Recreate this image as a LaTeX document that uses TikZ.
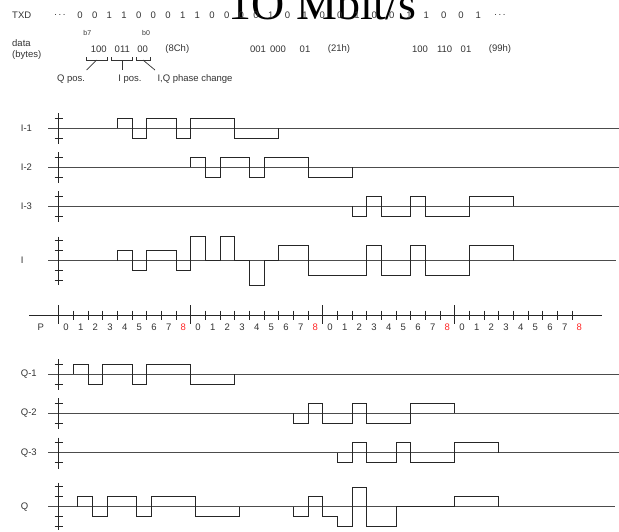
\documentclass[tikz,border=0pt]{standalone}
\usepackage{fontspec}
\setmainfont{Liberation Sans}
\newfontfamily\titlefont{Liberation Serif}
\begin{document}
\begin{tikzpicture}[x=1pt,y=-1pt,
  lbl/.style={font=\fontsize{9.5}{10}\selectfont, text=black!80, inner sep=0pt},
  small/.style={font=\fontsize{7}{8}\selectfont, text=black!80, inner sep=0pt},
  sig/.style={line width=0.9pt, draw=black!85, line join=miter},
  base/.style={line width=0.9pt, draw=black!70},
  tick/.style={line width=0.8pt, draw=black!85},
  brk/.style={line width=0.7pt, draw=black!80}
]
\useasboundingbox (0,0) rectangle (619,531);

% title
\node[anchor=base west, inner sep=0pt, font=\titlefont\fontsize{46}{46}\selectfont] (title) at (228.5,19) {1O Mbit/s};

% TXD line
\node[lbl,anchor=west] (txd) at (12,15) {TXD};
\node[lbl] (dotsA) at (60,15) {.\,.\,.};
\foreach \d [count=\i from 0] in {0,0,1,1,0,0,0,1,1,0,0,0,0,1}{
  \node[lbl] (tx\i) at ({80+\i*14.667},15) {\d};
}
\node[lbl] (tx14) at (287.6,15) {0};
\foreach \d [count=\i from 0] in {1,0,0,1,0,0,1,1,0,0,1}{
  \node[lbl] (ty\i) at ({305+\i*17.33},15) {\d};
}
\node[lbl] (dotsB) at (500,15) {.\,.\,.};

% data row
\node[small] (b7) at (87.3,32.7) {b7};
\node[small] (b0) at (146,32.7) {b0};
\node[lbl,anchor=west] (data) at (12,43.3) {data};
\node[lbl,anchor=west] (bytes) at (12,55) {(bytes)};
\node[lbl] (d1a) at (98.7,49) {100};
\node[lbl] (d1b) at (122.3,49) {011};
\node[lbl] (d1c) at (142.7,49) {00};
\node[lbl] (h1) at (177.3,49) {(8Ch)};
\node[lbl] (d2a) at (258,49) {001};
\node[lbl] (d2b) at (278,49) {000};
\node[lbl] (d2c) at (305,49) {01};
\node[lbl] (h2) at (339,49) {(21h)};
\node[lbl] (d3a) at (420,49) {100};
\node[lbl] (d3b) at (444.7,49) {110};
\node[lbl] (d3c) at (466,49) {01};
\node[lbl] (h3) at (500,49) {(99h)};

% brackets
\draw[brk] (86,57.3) |- (107.3,60) -- (107.3,57.3);
\draw[brk] (111.3,57.3) |- (132.7,60) -- (132.7,57.3);
\draw[brk] (136,57.3) |- (150,60) -- (150,57.3);
\coordinate (k1) at (96.7,60);
\coordinate (k2) at (122,60);
\coordinate (k3) at (143,60);
\coordinate (e1) at (86.7,70);
\coordinate (e2) at (122,70);
\coordinate (e3) at (155,70);
\draw[brk] (k1) -- (e1);
\draw[brk] (k2) -- (e2);
\draw[brk] (k3) -- (e3);
\node[lbl] (qpos) at (71,79) {Q pos.};
\node[lbl] (ipos) at (130,79) {I pos.};
\node[lbl,anchor=west] (iqpc) at (157.3,79) {I,Q phase change};

% row labels
\node[lbl,anchor=west] (lI1) at (20.7,128.3) {I-1};
\node[lbl,anchor=west] (lI2) at (20.7,167.3) {I-2};
\node[lbl,anchor=west] (lI3) at (20.7,206) {I-3};
\node[lbl,anchor=west] (lI)  at (20.7,260.7) {I};
\node[lbl] (lP) at (40.7,327.5) {P};
\node[lbl,anchor=west] (lQ1) at (20.7,374) {Q-1};
\node[lbl,anchor=west] (lQ2) at (20.7,413) {Q-2};
\node[lbl,anchor=west] (lQ3) at (20.7,452.7) {Q-3};
\node[lbl,anchor=west] (lQ)  at (20.7,506.7) {Q};

% baselines
\foreach \yb in {128.3,167.3,206,374,413,452.7}{
  \draw[base] (48.3,\yb) -- (619,\yb);
}
\draw[base] (48.3,260.7) -- (616,260.7);
\draw[base] (48.3,506.7) -- (615,506.7);

% small vertical axes
\foreach \yb in {128.3,167.3,206,374,413,452.7}{
  \draw[tick] (58.7,\yb-15) -- (58.7,\yb+16);
  \draw[tick] (54.7,\yb-10) -- (62.7,\yb-10) (54.7,\yb+10) -- (62.7,\yb+10);
}
% I axis
\draw[tick] (58.7,236.7) -- (58.7,285.3);
\foreach \dy in {-20,-10,10,20}{ \draw[tick] (54.7,260.7+\dy) -- (62.7,260.7+\dy); }
% Q axis
\draw[tick] (58.7,482.7) -- (58.7,530);
\foreach \dy in {-20,-10,9.6,19.3}{ \draw[tick] (54.7,506.7+\dy) -- (62.7,506.7+\dy); }

% waveforms
\begin{scope}[shift={(58.7,128.3)},x=14.667pt,y=1pt]
\draw[sig] (4,0)--(4,10)--(5,10)--(5,-10)--(6,-10)--(6,10)--(8,10)--(8,-10)--(9,-10)--(9,10)--(12,10)--(12,-10)--(15,-10)--(15,0);
\end{scope}
\begin{scope}[shift={(58.7,167.3)},x=14.667pt,y=1pt]
\draw[sig] (9,0)--(9,10)--(10,10)--(10,-10)--(11,-10)--(11,10)--(13,10)--(13,-10)--(14,-10)--(14,10)--(17,10)--(17,-10)--(20,-10)--(20,0);
\end{scope}
\begin{scope}[shift={(58.7,206)},x=14.667pt,y=1pt]
\draw[sig] (20,0)--(20,-10)--(21,-10)--(21,10)--(22,10)--(22,-10)--(24,-10)--(24,10)--(25,10)--(25,-10)--(28,-10)--(28,10)--(31,10)--(31,0);
\end{scope}
\begin{scope}[shift={(58.7,260.7)},x=14.667pt,y=1pt]
\draw[sig] (4,0)--(4,10)--(5,10)--(5,-10)--(6,-10)--(6,10)--(8,10)--(8,-10)--(9,-10)--(9,24.4)--(10,24.4)--(10,0)--(11,0)--(11,24.4)--(12,24.4)--(12,0)--(13,0)--(13,-24.6)--(14,-24.6)--(14,0)--(15,0)--(15,15)--(17,15)--(17,-15)--(21,-15)--(21,15)--(22,15)--(22,-15)--(24,-15)--(24,15)--(25,15)--(25,-15)--(28,-15)--(28,15)--(31,15)--(31,0);
\end{scope}
\begin{scope}[shift={(58.7,374)},x=14.667pt,y=1pt]
\draw[sig] (1,0)--(1,10)--(2,10)--(2,-10)--(3,-10)--(3,10)--(5,10)--(5,-10)--(6,-10)--(6,10)--(9,10)--(9,-10)--(12,-10)--(12,0);
\end{scope}
\begin{scope}[shift={(58.7,413)},x=14.667pt,y=1pt]
\draw[sig] (16,0)--(16,-10)--(17,-10)--(17,10)--(18,10)--(18,-10)--(20,-10)--(20,10)--(21,10)--(21,-10)--(24,-10)--(24,10)--(27,10)--(27,0);
\end{scope}
\begin{scope}[shift={(58.7,452.7)},x=14.667pt,y=1pt]
\draw[sig] (19,0)--(19,-10)--(20,-10)--(20,10)--(21,10)--(21,-10)--(23,-10)--(23,10)--(24,10)--(24,-10)--(27,-10)--(27,10)--(30,10)--(30,0);
\end{scope}
\begin{scope}[shift={(58.7,506.7)},x=14.667pt,y=1pt]
\draw[sig] (1.3,0)--(1.3,10)--(2.3,10)--(2.3,-10)--(3.3,-10)--(3.3,10)--(5.3,10)--(5.3,-10)--(6.3,-10)--(6.3,10)--(9.3,10)--(9.3,-10)--(12.3,-10)--(12.3,0);
\draw[sig] (16,0)--(16,-10)--(17,-10)--(17,10)--(18,10)--(18,-10)--(19,-10)--(19,-19.4)--(20,-19.4)--(20,19.4)--(21,19.4)--(21,-19.4)--(23,-19.4)--(23,0)--(27,0)--(27,10)--(30,10)--(30,0);
\end{scope}

% P axis
\draw[tick] (29,315) -- (602,315);
\foreach \k in {0,...,35}{
  \pgfmathtruncatemacro\m{mod(\k,9)}
  \ifnum\m=0
    \draw[tick] ({58.7+\k*14.667},305) -- ++(0,19);
  \else
    \draw[tick] ({58.7+\k*14.667},310.7) -- ++(0,9.3);
  \fi
}
\foreach \k in {0,...,35}{
  \pgfmathtruncatemacro\lab{mod(\k,9)}
  \ifnum\lab=8 \def\col{red!85}\else\def\col{black!80}\fi
  \node[lbl,text=\col] (p\k) at ({58.7+(\k+0.5)*14.667},327.5) {\lab};
}
\end{tikzpicture}
\end{document}
